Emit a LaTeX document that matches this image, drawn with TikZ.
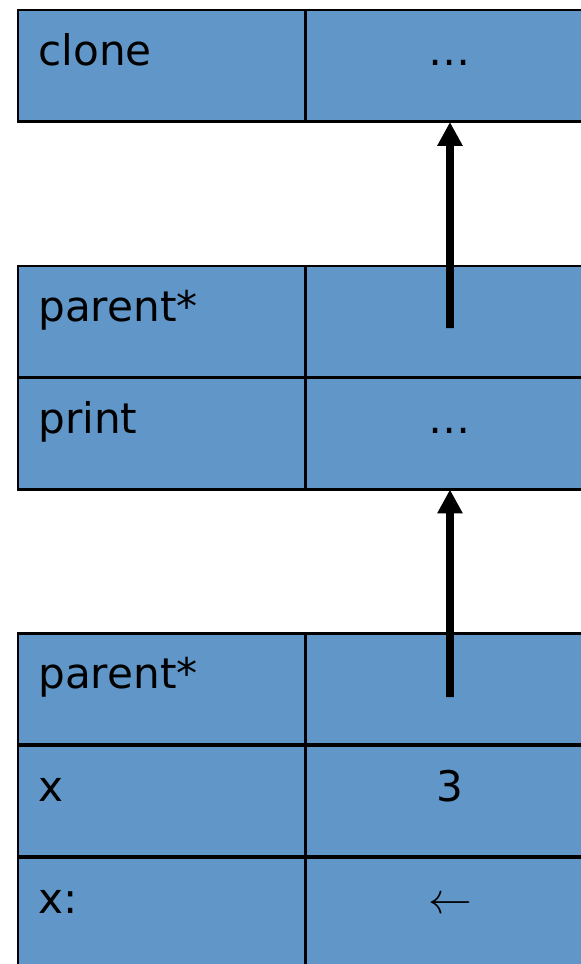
\documentclass[tikz,border=0pt]{standalone}
\usepackage{fontspec}
\setmainfont{DejaVu Sans}
\usetikzlibrary{arrows.meta}
\definecolor{slotblue}{RGB}{96,150,200}

\begin{document}
\begin{tikzpicture}[x=0.02cm,y=-0.02cm,
        keycell/.style={% left column of a slot
            rectangle,
            draw,
            line width=1.7pt,
            fill=slotblue,
            anchor=north west,
            minimum width=5.76cm,
            minimum height=2.24cm,
            inner sep=0pt,
            outer sep=0pt,
            },
        valcell/.style={% right column of a slot
            keycell,
            minimum width=5.76cm,
            },
        keytext/.style={% slot names
            anchor=base west,
            inner sep=0pt,
            xshift=0.4cm,
            font=\fontsize{24pt}{28pt}\selectfont,
            },
        valtext/.style={% slot values
            anchor=base,
            inner sep=0pt,
            font=\fontsize{24pt}{28pt}\selectfont,
            },
        ptr/.style={% parent pointers
            line width=4.5pt,
            -{Triangle[length=4.8mm,width=4.8mm]},
            },
            ]
         \clip (0,0) rectangle (581,964);
         \useasboundingbox (0,0) rectangle (581,964);
         % clone object
         \node[keycell] (k1) at (18,10) {};
         \node[valcell] (v1) at (306,10) {};
         \node[keytext] (tk1) at (k1.west) {clone};
         \node[valtext] (tv1) at (v1.center) {\dots};
         % middle object
         \node[keycell] (k2) at (18,266) {};
         \node[valcell] (v2) at (306,266) {};
         \node[keycell] (k3) at (18,377.5) {};
         \node[valcell] (v3) at (306,377.5) {};
         \node[keytext] (tk2) at (k2.west) {parent*};
         \node[keytext] (tk3) at (k3.west) {print};
         \node[valtext] (tv3) at (v3.center) {\dots};
         % bottom object
         \node[keycell] (k4) at (18,633) {};
         \node[valcell] (v4) at (306,633) {};
         \node[keycell] (k5) at (18,745) {};
         \node[valcell] (v5) at (306,745) {};
         \node[keycell] (k6) at (18,857) {};
         \node[valcell] (v6) at (306,857) {};
         \node[keytext] (tk4) at (k4.west) {parent*};
         \node[keytext] (tk5) at (k5.west) {x};
         \node[valtext] (tv5) at (v5.center) {3};
         \node[keytext] (tk6) at (k6.west) {x:};
         \node[valtext] (tv6) at (v6.center) {$\leftarrow$};
         % pointers
         \coordinate (s2) at (450,328);
         \coordinate (s4) at (450,697);
         \draw[ptr] (s2) -- (v1.south);
         \draw[ptr] (s4) -- (v3.south);
        \end{tikzpicture}
\end{document}
